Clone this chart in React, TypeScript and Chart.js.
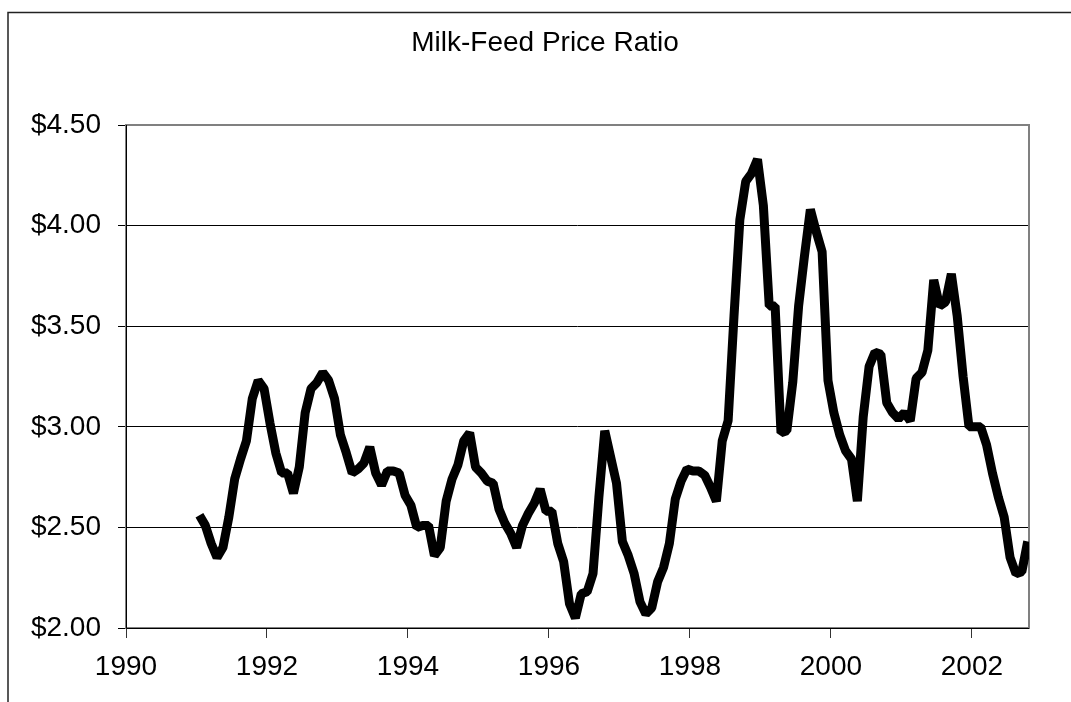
import React, { useEffect, useRef } from 'react';
import { Chart, registerables } from 'chart.js';

Chart.register(...registerables);

const chartTitle = 'Milk-Feed Price Ratio';
const fontFamily = '"Liberation Sans", Arial, sans-serif';

// Monthly milk-feed price ratio, January 1991 onward
const price1991 = [2.56, 2.51, 2.42, 2.35, 2.40, 2.55, 2.74, 2.84, 2.93, 3.14, 3.23, 3.19];
const price1992 = [3.02, 2.87, 2.77, 2.77, 2.67, 2.80, 3.07, 3.19, 3.22, 3.27, 3.23, 3.14];
const price1993 = [2.96, 2.87, 2.77, 2.79, 2.82, 2.90, 2.77, 2.71, 2.78, 2.78, 2.77, 2.66];
const price1994 = [2.61, 2.50, 2.51, 2.51, 2.36, 2.40, 2.63, 2.74, 2.81, 2.93, 2.97, 2.80];
const price1995 = [2.77, 2.73, 2.72, 2.59, 2.52, 2.47, 2.40, 2.51, 2.57, 2.62, 2.69, 2.58];
const price1996 = [2.58, 2.42, 2.33, 2.12, 2.05, 2.17, 2.18, 2.27, 2.65, 2.98, 2.85, 2.72];
const price1997 = [2.43, 2.36, 2.27, 2.13, 2.07, 2.10, 2.23, 2.30, 2.42, 2.64, 2.73, 2.79];
const price1998 = [2.78, 2.78, 2.76, 2.70, 2.63, 2.93, 3.03, 3.55, 4.03, 4.22, 4.26, 4.33];
const price1999 = [4.10, 3.60, 3.60, 2.97, 2.98, 3.22, 3.60, 3.85, 4.08, 3.97, 3.87, 3.23];
const price2000 = [3.07, 2.96, 2.88, 2.84, 2.63, 3.05, 3.30, 3.37, 3.36, 3.12, 3.07, 3.04];
const price2001 = [3.07, 3.03, 3.24, 3.27, 3.38, 3.73, 3.60, 3.62, 3.76, 3.55, 3.25, 3.00];
const price2002 = [3.00, 3.00, 2.91, 2.77, 2.65, 2.55, 2.35, 2.27, 2.28, 2.43];

const years = [1991, 1992, 1993, 1994, 1995, 1996, 1997, 1998, 1999, 2000, 2001, 2002];
const yearlyPrices = [
  price1991, price1992, price1993, price1994, price1995, price1996,
  price1997, price1998, price1999, price2000, price2001, price2002,
];

const xTickYears = [1990, 1992, 1994, 1996, 1998, 2000, 2002];
const xMin = 1990;
const xMax = 2002.81;
const yTickValues = [2.0, 2.5, 3.0, 3.5, 4.0, 4.5];
const yMin = 2.0;
const yMax = 4.5;

function buildPoints() {
  const pts: { x: number; y: number }[] = [];
  years.forEach((yr, k) => {
    yearlyPrices[k].forEach((v, m) => {
      pts.push({ x: yr + (m + 0.5) / 12, y: v });
    });
  });
  return pts;
}

const framePlugin = {
  id: 'excelFrame',
  beforeDraw(chart: any) {
    const ctx = chart.ctx;
    ctx.save();
    ctx.fillStyle = '#ffffff';
    ctx.fillRect(0, 0, chart.width, chart.height);
    ctx.strokeStyle = '#222222';
    ctx.lineWidth = 1.5;
    ctx.beginPath();
    ctx.moveTo(8, chart.height + 5);
    ctx.lineTo(8, 12.5);
    ctx.lineTo(chart.width + 5, 12.5);
    ctx.stroke();
    ctx.restore();
  },
  beforeDatasetsDraw(chart: any) {
    const { ctx, chartArea } = chart;
    const { left, top, right, bottom } = chartArea;
    ctx.save();
    ctx.strokeStyle = '#808080';
    ctx.lineWidth = 2;
    ctx.strokeRect(left, top, right - left, bottom - top);
    ctx.strokeStyle = '#000000';
    ctx.lineWidth = 1;
    ctx.beginPath();
    ctx.moveTo(Math.round(left) + 0.5, top);
    ctx.lineTo(Math.round(left) + 0.5, Math.round(bottom) + 0.5);
    ctx.lineTo(right, Math.round(bottom) + 0.5);
    ctx.stroke();
    ctx.restore();
  },
};

export default function App() {
  const canvasRef = useRef<HTMLCanvasElement | null>(null);

  useEffect(() => {
    const canvas = canvasRef.current;
    if (!canvas) return;
    const chart = new Chart(canvas, {
      type: 'line',
      data: {
        datasets: [
          {
            label: chartTitle,
            data: buildPoints(),
            borderColor: '#000000',
            borderWidth: 9,
            borderJoinStyle: 'bevel',
            borderCapStyle: 'butt',
            pointRadius: 0,
            fill: false,
            tension: 0,
          },
        ],
      },
      options: {
        animation: false,
        responsive: false,
        devicePixelRatio: 1,
        layout: { padding: { left: 20, right: 1, top: 13, bottom: 14 } },
        plugins: {
          legend: { display: false },
          tooltip: { enabled: false },
          title: {
            display: true,
            text: chartTitle,
            color: '#000000',
            font: { family: fontFamily, size: 28, weight: 'normal' },
            padding: { top: 13, bottom: 65.4 },
          },
        },
        scales: {
          x: {
            type: 'linear',
            min: xMin,
            max: xMax,
            afterBuildTicks: (scale: any) => {
              scale.ticks = xTickYears.map((v) => ({ value: v }));
            },
            afterFit: (scale: any) => {
              scale.height = 60;
            },
            ticks: {
              color: '#000000',
              font: { family: fontFamily, size: 28 },
              padding: 12,
              maxRotation: 0,
              autoSkip: false,
              callback: (v: any) => String(v),
            },
            grid: {
              drawOnChartArea: false,
              drawTicks: true,
              tickLength: 10,
              color: '#333333',
              lineWidth: 1,
            },
            border: { display: false },
          },
          y: {
            type: 'linear',
            min: yMin,
            max: yMax,
            afterBuildTicks: (scale: any) => {
              scale.ticks = yTickValues.map((v) => ({ value: v }));
            },
            afterFit: (scale: any) => {
              scale.width = 106;
            },
            ticks: {
              color: '#000000',
              font: { family: fontFamily, size: 28 },
              padding: 17,
              autoSkip: false,
              callback: (v: any) => '$' + Number(v).toFixed(2),
            },
            grid: {
              drawOnChartArea: true,
              drawTicks: true,
              tickLength: 8,
              color: '#000000',
              lineWidth: 1,
            },
            border: { display: false },
          },
          yRightSpace: {
            type: 'linear',
            position: 'right',
            display: true,
            min: yMin,
            max: yMax,
            afterFit: (scale: any) => {
              scale.width = 41;
            },
            ticks: { display: false },
            grid: { display: false, drawTicks: false },
            border: { display: false },
          },
        },
      },
      plugins: [framePlugin],
    } as any);
    return () => chart.destroy();
  }, []);

  return (
    <div style={{ position: 'absolute', left: 0, top: 0, width: 1071, height: 702, background: '#fff' }}>
      <canvas ref={canvasRef} width={1071} height={702} style={{ display: 'block', width: 1071, height: 702 }} />
    </div>
  );
}
